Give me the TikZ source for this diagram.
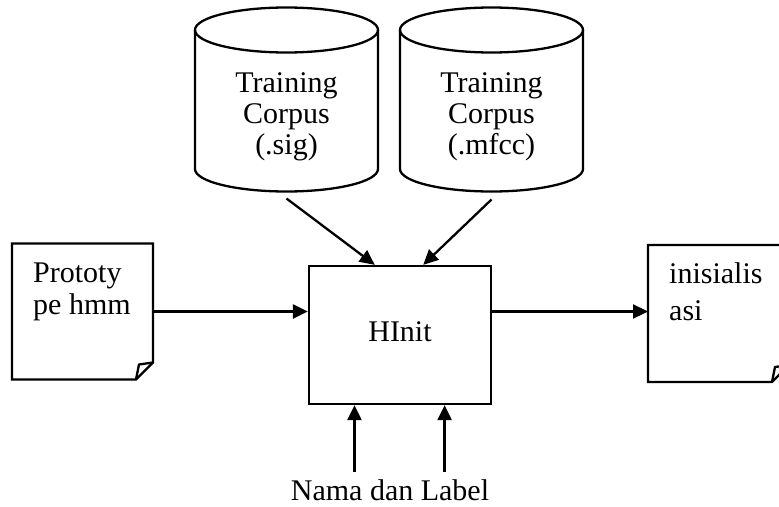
\documentclass[tikz,border=0pt]{standalone}
\usepackage{fontspec}
\setmainfont{Liberation Serif}
\usetikzlibrary{arrows.meta,calc}

\tikzset{
  ink/.style={line width=2.3pt, black},
  arr/.style={ink, -{Triangle[length=15pt,width=14pt]}},
  frame/.style={inner sep=0pt, outer sep=0pt},
  txt/.style={inner sep=0pt, font=\fontsize{30}{31}\selectfont},
}

% database drum drawn around an invisible frame node: #1 node, #2 half width
\newcommand\drumshape[2]{%
  \draw[ink] ([yshift=-22.5pt]#1.north) ellipse [x radius=#2, y radius=22.5pt];
  \draw[ink] ([yshift=-22.5pt]#1.north west) -- ([yshift=22.5pt]#1.south west)
    arc[start angle=180, end angle=360, x radius=#2, y radius=22.5pt]
    -- ([yshift=-22.5pt]#1.north east);}

% document sheet with a curled lower right corner
\newcommand\pageshape[1]{%
  \draw[ink, line join=miter] (#1.north west) -- (#1.north east)
    -- ([yshift=17pt]#1.south east) -- ([xshift=-17pt]#1.south east)
    -- (#1.south west) -- cycle;
  \draw[ink, line join=round] ([yshift=17pt]#1.south east)
    -- ([xshift=-14pt,yshift=15pt]#1.south east) -- ([xshift=-17pt]#1.south east);}

\begin{document}
\begin{tikzpicture}[x=1pt,y=-1pt]
\useasboundingbox (0,0) rectangle (779,506);
\fill[white] (0,0) rectangle (779,506);
\clip (0,0) rectangle (779,506);

% training corpora
\node[frame, minimum width=183pt, minimum height=184pt] (lcyl) at (286.5,99.5) {};
\node[frame, minimum width=183pt, minimum height=184pt] (rcyl) at (491.5,99.5) {};
\drumshape{lcyl}{91.5pt}
\drumshape{rcyl}{91.5pt}
\node[txt, anchor=base] (lcyltext) at ([yshift=-84.5pt]lcyl.north)
  {\begin{tabular}[t]{@{}c@{}}Training\\Corpus\\(.sig)\end{tabular}};
\node[txt, anchor=base] (rcyltext) at ([yshift=-84.5pt]rcyl.north)
  {\begin{tabular}[t]{@{}c@{}}Training\\Corpus\\(.mfcc)\end{tabular}};

% HInit tool
\node[ink, draw, minimum width=182pt, minimum height=138pt, inner sep=0pt,
      font=\fontsize{30}{31}\selectfont, text depth=6pt] (hinit) at (400,335) {HInit};

% input prototype and output model
\node[frame, minimum width=141pt, minimum height=136pt] (proto) at (82.5,311.5) {};
\node[frame, minimum width=141pt, minimum height=137pt] (init) at (718.5,313.5) {};
\pageshape{proto}
\pageshape{init}
\node[txt, anchor=base west, font=\fontsize{30}{32}\selectfont] (prototext) at (33,282)
  {\begin{tabular}[t]{@{}l@{}}Prototy\\pe hmm\end{tabular}};
\node[txt, anchor=base west, font=\fontsize{30}{37}\selectfont] (inittext) at (669,283)
  {\begin{tabular}[t]{@{}l@{}}inisialis\\asi\end{tabular}};

% names and labels
\node[txt, anchor=base] (lbl) at (390,500) {Nama dan Label};
\coordinate (lbltop) at ([yshift=6.5pt]lbl.north);

% connectors
\coordinate (t1) at ($(hinit.north west)!0.363!(hinit.north east)$);
\coordinate (t2) at ($(hinit.north west)!0.626!(hinit.north east)$);
\coordinate (b1) at ($(hinit.south west)!0.253!(hinit.south east)$);
\coordinate (b2) at ($(hinit.south west)!0.742!(hinit.south east)$);

\draw[arr] ([yshift=-7pt]lcyl.south) -- (t1);
\draw[arr] ([yshift=-8pt]rcyl.south) -- (t2);
\draw[arr] (proto.east) -- (proto.east -| hinit.west);
\draw[arr] (proto.east -| hinit.east) -- (proto.east -| init.west);
\draw[arr] (lbltop -| b1) -- (b1);
\draw[arr] (lbltop -| b2) -- (b2);
\end{tikzpicture}
\end{document}
